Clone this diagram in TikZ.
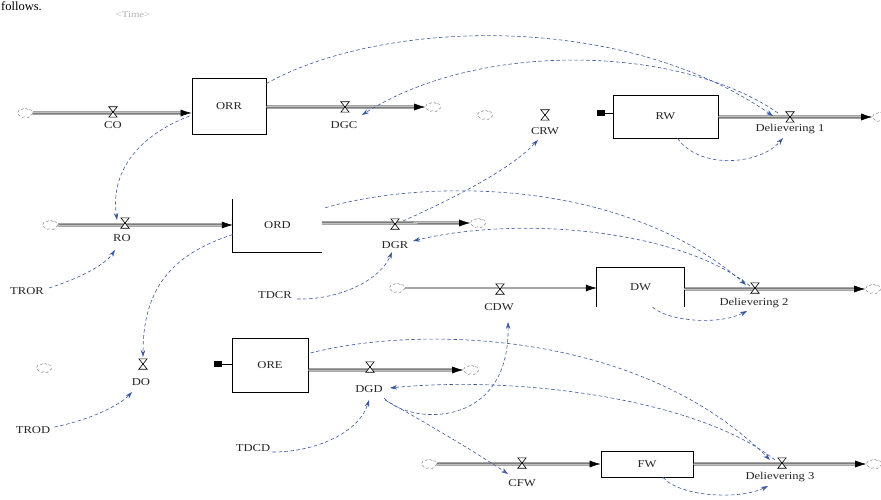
\documentclass[tikz,border=0pt]{standalone}
\usepackage{fontspec}
\setmainfont{Liberation Serif}[FakeStretch=1.2]
\newfontfamily\plainserif{Liberation Serif}
\usetikzlibrary{arrows.meta,shapes.symbols}
\definecolor{connblue}{RGB}{60,90,160}
\definecolor{connhead}{RGB}{40,80,170}
\newcommand{\lblfont}{\fontsize{10.5}{11}\selectfont}
\begin{document}
\begin{tikzpicture}[x=1pt,y=-1pt,
  box/.style={draw=black, line width=0.8pt, inner sep=0, font=\lblfont, text=black!85},
  openbox/.style={inner sep=0, font=\lblfont, text=black!85},
  lbl/.style={inner sep=0, font=\lblfont, text=black!85},
  cloudn/.style={cloud, cloud puffs=7, cloud puff arc=110, aspect=1.6, draw=gray!85, densely dashed, line width=0.55pt, minimum width=15pt, minimum height=10pt, inner sep=0},
  flow/.style={draw=black, line width=0.55pt, double=gray!50, double distance=1.5pt, -{Latex[length=11pt,width=7pt]}},
  sflow/.style={draw=black, line width=0.7pt, -{Latex[length=11pt,width=7pt]}},
  valve/.style={inner sep=0, minimum width=8pt, minimum height=10pt},
  valvesym/.style={draw=black, line width=0.6pt, fill=white},
  conn/.style={draw=connblue, line width=0.6pt, dash pattern=on 3.5pt off 2.5pt, -{Stealth[length=7pt,width=4.5pt,fill=connhead]}},
]
\clip (0,0) rectangle (881,500);
\fill[white] (0,0) rectangle (881,500);

% header texts
\node[anchor=base west, inner sep=0, font=\plainserif\fontsize{12.5}{14}\selectfont] (fol) at (1,10.5) {follows.};
\node[inner sep=0, font=\fontsize{9}{10}\selectfont, text=gray!60] (time) at (133,15) {<Time>};

% stocks
\node[box, minimum width=74pt, minimum height=56pt] (ORR) at (229,106) {ORR};
\node[box, minimum width=105pt, minimum height=43pt] (RW) at (665.5,116.5) {RW};
\node[openbox, minimum width=89pt, minimum height=53pt] (ORD) at (277.5,225.5) {ORD};
\draw[line width=0.8pt] (ORD.north west) -- (ORD.south west) -- (ORD.south east);
\node[openbox, minimum width=87pt, minimum height=39pt] (DW) at (640.5,287.5) {DW};
\draw[line width=0.8pt] (DW.south west) -- (DW.north west) -- (DW.north east) -- (DW.south east);
\node[box, minimum width=76pt, minimum height=54pt] (ORE) at (270,365) {ORE};
\node[box, minimum width=92pt, minimum height=26pt] (FW) at (647,464) {FW};

% clouds
\node[cloudn] (c1) at (25,113) {};
\node[cloudn] (c2) at (433,107) {};
\node[cloudn] (c3) at (485,115) {};
\node[cloudn] (c4) at (880,117) {};
\node[cloudn] (c5) at (50,225) {};
\node[cloudn] (c6) at (478,223) {};
\node[cloudn] (c7) at (397,288) {};
\node[cloudn] (c8) at (873,289) {};
\node[cloudn] (c9) at (44,368) {};
\node[cloudn] (c10) at (471,370) {};
\node[cloudn] (c11) at (429,464) {};
\node[cloudn] (c12) at (874,464) {};

% flows
\draw[flow] (c1) -- (c1 -| ORR.west);
\draw[flow] (ORR.east |- c2) -- (c2);
\coordinate (rwin) at (597,113);
\fill (rwin) ++(0,-3) rectangle ++(8,6);
\draw[line width=0.8pt] (rwin) -- (rwin -| RW.west);
\draw[flow] (RW.east |- c4) -- (c4);
\draw[flow] (c5) -- (c5 -| ORD.west);
\draw[flow] (ORD.east |- c6) -- (c6);
\draw[sflow] (c7) -- (c7 -| DW.west);
\draw[flow] (DW.east |- c8) -- (c8);
\coordinate (orein) at (214,364);
\fill (orein) ++(0,-3) rectangle ++(8,6);
\draw[line width=0.8pt] (orein) -- (orein -| ORE.west);
\draw[flow] (ORE.east |- c10) -- (c10);
\draw[flow] (c11) -- (c11 -| FW.west);
\draw[flow] (FW.east |- c12) -- (c12);

% valves
\node[valve] (vCO) at (113,112) {};
\node[valve] (vDGC) at (345,107) {};
\node[valve] (vCRW) at (545,115) {};
\node[valve] (vD1) at (790,117) {};
\node[valve] (vRO) at (125,223) {};
\node[valve] (vDGR) at (395,224) {};
\node[valve] (vCDW) at (500,289) {};
\node[valve] (vD2) at (755,288) {};
\node[valve] (vDO) at (143,364) {};
\node[valve] (vDGD) at (370,367) {};
\node[valve] (vCFW) at (522,463) {};
\node[valve] (vD3) at (782,463) {};
\foreach \v in {vCO,vDGC,vCRW,vD1,vRO,vDGR,vCDW,vD2,vDO,vDGD,vCFW,vD3}
  \draw[valvesym] (\v.north west) -- (\v.north east) -- (\v.south west) -- (\v.south east) -- cycle;

% labels
\node[lbl] (lCO) at (113,125) {CO};
\node[lbl] (lDGC) at (344,125) {DGC};
\node[lbl] (lCRW) at (545,131) {CRW};
\node[lbl] (lD1) at (790,129) {Delievering 1};
\node[lbl] (lRO) at (122,238) {RO};
\node[lbl] (lDGR) at (395,245) {DGR};
\node[lbl] (lCDW) at (499,307) {CDW};
\node[lbl] (lD2) at (754,303) {Delievering 2};
\node[lbl] (lDO) at (141,382) {DO};
\node[lbl] (lDGD) at (369,389) {DGD};
\node[lbl] (lCFW) at (522,483) {CFW};
\node[lbl] (lD3) at (780,477) {Delievering 3};
\node[lbl] (TROR) at (27,291) {TROR};
\node[lbl] (TDCR) at (275,295) {TDCR};
\node[lbl] (TROD) at (33,430) {TROD};
\node[lbl] (TDCD) at (253,448) {TDCD};

% information links
\draw[conn] (ORR.31) .. controls (380,20) and (620,10) .. ([shift={(-17,-1)}]vD1.center);
\draw[conn] ([shift={(-12,-4)}]vD1.center) .. controls (680,45) and (480,40) .. ([shift={(17,8)}]vDGC.center);
\draw[conn] ([shift={(12,0)}]RW.south) .. controls (700,170) and (760,165) .. ([shift={(-7,21)}]vD1.center);
\draw[conn] ([shift={(-2,10)}]ORR.west) .. controls (140,135) and (110,170) .. ([shift={(-8,-3)}]vRO.center);
\draw[conn] ([shift={(5,-3)}]TROR.east) .. controls (80,278) and (105,265) .. ([shift={(-10,27)}]vRO.center);
\draw[conn] ([shift={(0,9)}]ORD.west) .. controls (170,255) and (143,290) .. ([shift={(0,-7)}]vDO.center);
\draw[conn] ([shift={(4,-3)}]TROD.east) .. controls (90,420) and (120,405) .. ([shift={(-11,28)}]vDO.center);
\draw[conn] ([shift={(3,9)}]ORD.north east) .. controls (420,180) and (620,175) .. ([shift={(-9,-3)}]vD2.center);
\draw[conn] ([shift={(-5,-2)}]vD2.center) .. controls (680,230) and (520,215) .. ([shift={(18,17)}]vDGR.center);
\draw[conn] ([shift={(8,-3)}]vDGR.center) .. controls (450,200) and (510,170) .. ([shift={(-7,25)}]vCRW.center);
\draw[conn] ([shift={(5,4)}]TDCR.east) .. controls (340,300) and (380,280) .. ([shift={(-3,28)}]vDGR.center);
\draw[conn] ([shift={(12,0)}]DW.south) .. controls (670,322) and (720,325) .. ([shift={(-8,23)}]vD2.center);
\draw[conn] ([shift={(2,-12)}]ORE.east) .. controls (420,325) and (640,330) .. ([shift={(-12,-3)}]vD3.center);
\draw[conn] ([shift={(-7,-3)}]vD3.center) .. controls (700,400) and (520,375) .. ([shift={(20,21)}]vDGD.center);
\draw[conn] ([shift={(14,31)}]vDGD.center) .. controls (410,425) and (510,430) .. ([shift={(8,33)}]vCDW.center);
\draw[conn] ([shift={(15,33)}]vDGD.center) .. controls (430,425) and (480,455) .. ([shift={(-14,11)}]vCFW.center);
\draw[conn] ([shift={(2,4)}]TDCD.east) .. controls (320,452) and (360,430) .. ([shift={(-1,33)}]vDGD.center);
\draw[conn] ([shift={(16,0)}]FW.south) .. controls (680,497) and (740,500) .. ([shift={(-14,23)}]vD3.center);
\end{tikzpicture}
\end{document}
